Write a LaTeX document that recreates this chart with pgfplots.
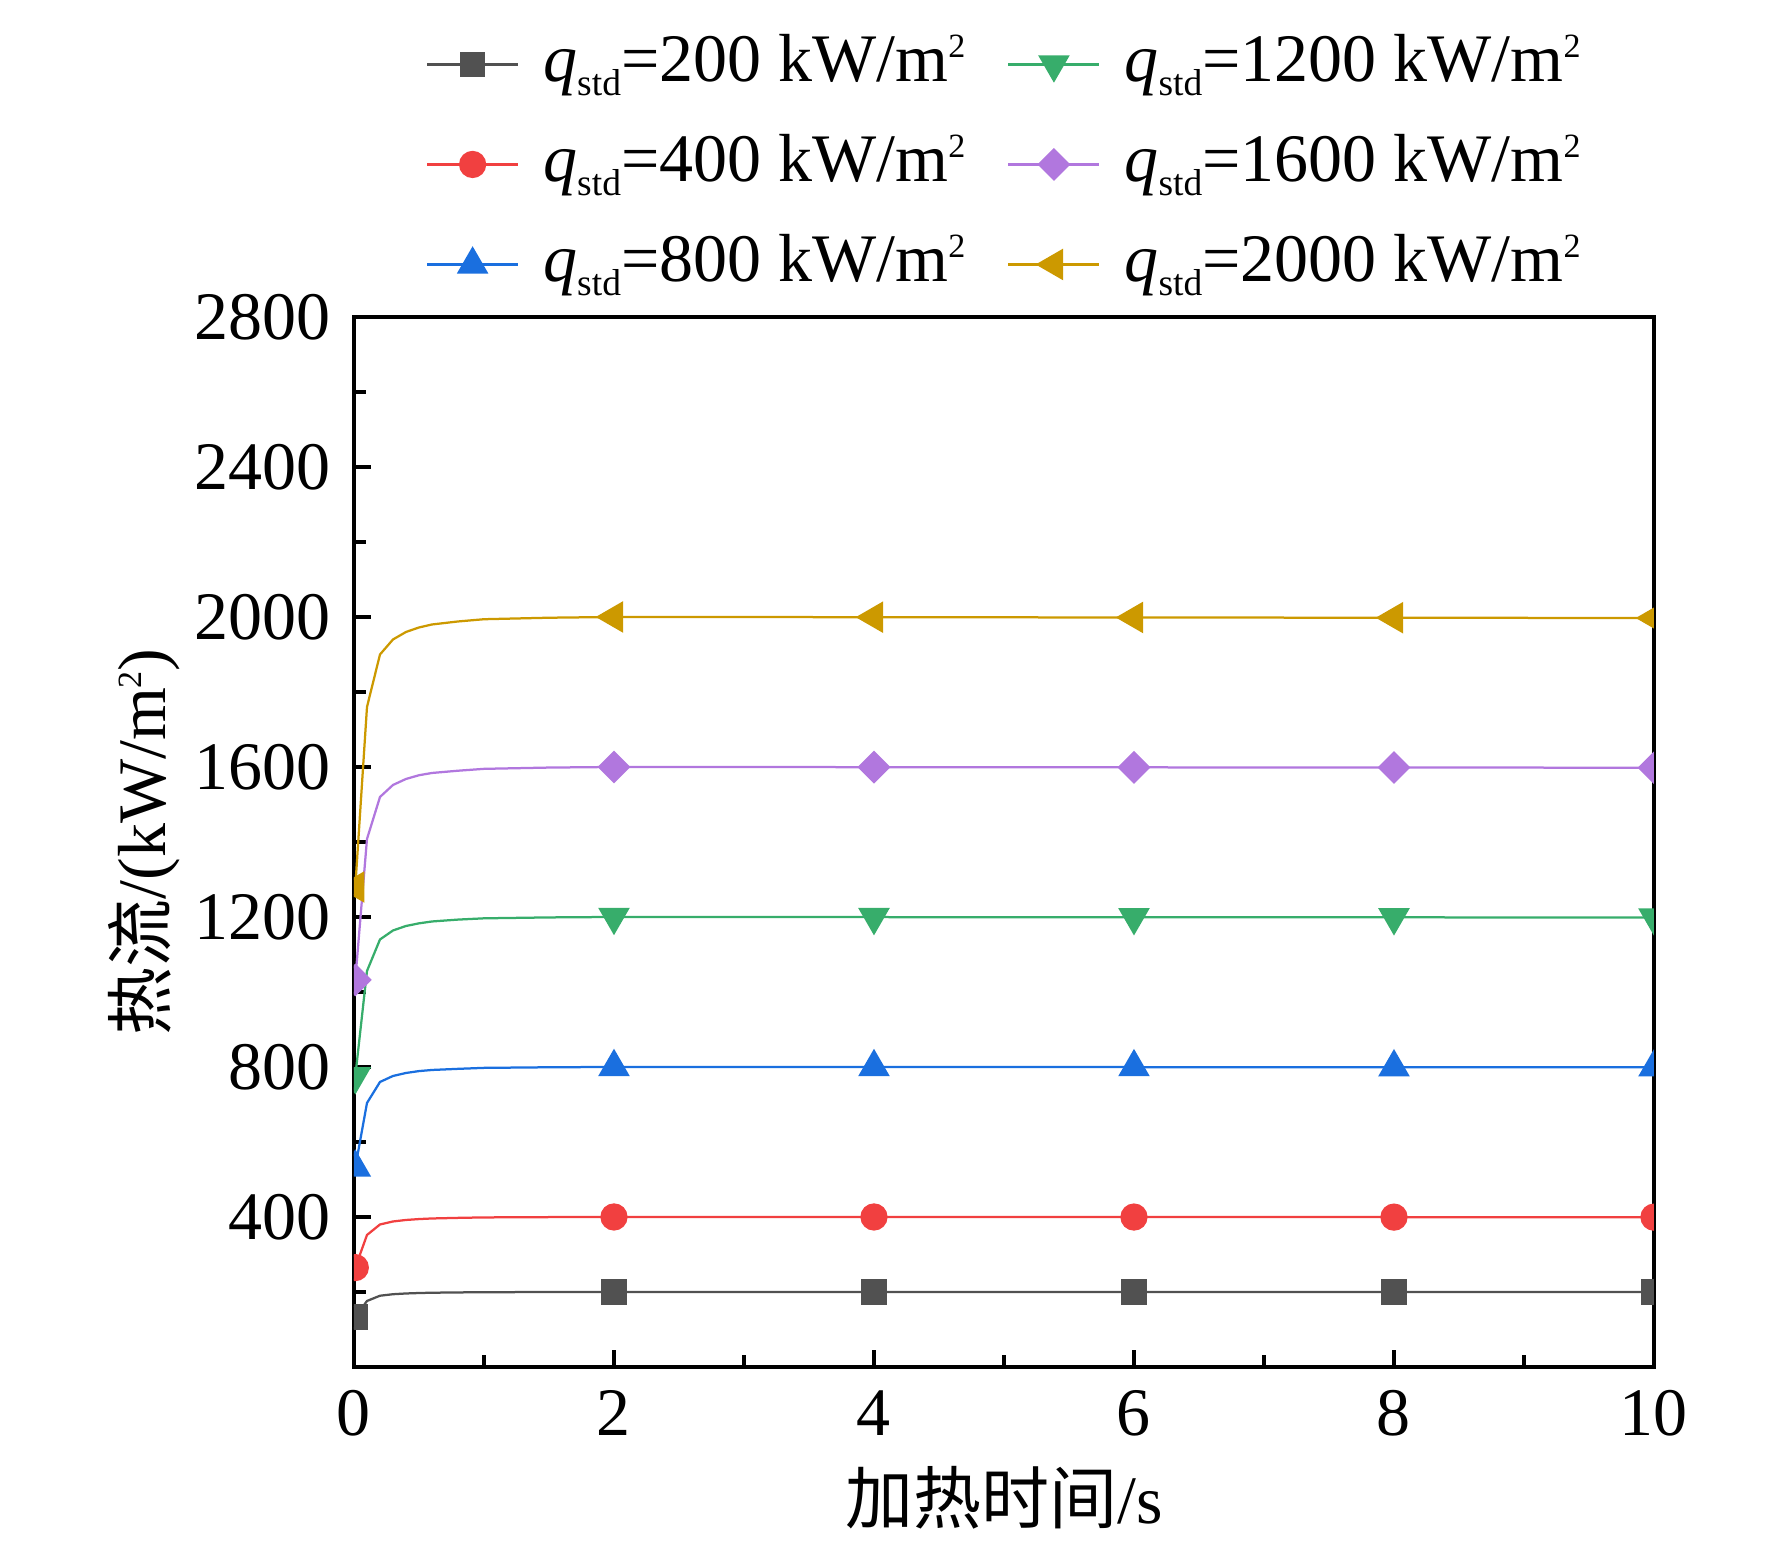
\documentclass[border=0pt]{standalone}
\usepackage{fontspec}
\setmainfont{Liberation Serif}
\newfontfamily\cjk{Noto Sans CJK SC}
\usepackage{pgfplots}
\usepackage{pgfplotstable}
\pgfplotsset{compat=1.18}
\definecolor{c1}{HTML}{515151}
\definecolor{c2}{HTML}{F14040}
\definecolor{c3}{HTML}{1A6FDF}
\definecolor{c4}{HTML}{37AD6B}
\definecolor{c5}{HTML}{B177DE}
\definecolor{c6}{HTML}{CC9900}
\newcommand\subr[1]{\raisebox{-2.8pt}{\fontsize{7.5}{8}\selectfont #1}}
\newcommand\supr[1]{\raisebox{4.8pt}{\fontsize{6.8}{8}\selectfont #1}}
\newcommand\qs{\textit{q}\subr{std}}

\pgfplotstableread{
t q
0.01 133
0.1 176
0.2 190
0.3 194
0.4 196
0.5 197.2
0.6 198
0.8 198.8
1.0 199.4
1.5 199.8
2 200
3 200
4 199.9
5 199.9
6 199.8
7 199.8
8 199.7
9 199.7
10 199.6
}\qa
\pgfplotstableread{
t q
0.01 265
0.1 352
0.2 380
0.3 388
0.4 392
0.5 394.4
0.6 396
0.8 397.6
1.0 398.8
1.5 399.6
2 400
3 400
4 400
5 399.8
6 399.8
7 399.6
8 399.6
9 399.5
10 399.5
}\qb
\pgfplotstableread{
t q
0.01 532
0.1 704
0.2 760
0.3 776
0.4 784
0.5 789
0.6 792
0.8 795
1.0 797.6
1.5 799.2
2 800
3 800
4 799.8
5 799.7
6 799.6
7 799.4
8 799.3
9 799.2
10 799
}\qc
\pgfplotstableread{
t q
0.01 775
0.1 1056
0.2 1140
0.3 1164
0.4 1176
0.5 1183
0.6 1188
0.8 1193
1.0 1196.4
1.5 1198.8
2 1200
3 1200
4 1199.6
5 1199.5
6 1199.3
7 1199.1
8 1199
9 1198.8
10 1198.6
}\qd
\pgfplotstableread{
t q
0.01 1032
0.1 1408
0.2 1520
0.3 1552
0.4 1568
0.5 1578
0.6 1584
0.8 1590
1.0 1595
1.5 1598.4
2 1600
3 1599.8
4 1599.5
5 1599.2
6 1599
7 1598.7
8 1598.5
9 1598.3
10 1598
}\qe
\pgfplotstableread{
t q
0.01 1280
0.1 1760
0.2 1900
0.3 1940
0.4 1960
0.5 1972
0.6 1980
0.8 1988
1.0 1994
1.5 1998
2 2000
3 1999.8
4 1999.4
5 1999
6 1998.7
7 1998.3
8 1998
9 1997.6
10 1997.2
}\qf

\begin{document}
\fontsize{13.6}{16}\selectfont
\begin{tikzpicture}
\path[use as bounding box] (-70.8pt,-36.4pt) rectangle (283.6pt,273.4pt);
\begin{axis}[
  scale only axis,
  width=260pt, height=210pt,
  at={(0,0)}, anchor=south west,
  xmin=0, xmax=10, ymin=0, ymax=2800,
  xtick={0,2,...,10}, minor xtick={1,3,5,7,9},
  ytick={400,800,...,2800}, minor ytick={200,600,...,2600},
  xtick pos=bottom, ytick pos=left,
  tick align=inside,
  major tick length=3.4pt, minor tick length=2.4pt,
  every tick/.style={line width=0.8pt, black},
  axis line style={line width=0.8pt},
  /pgf/number format/assume math mode=true,
  /pgf/number format/1000 sep={},
  tick label style={font=\fontsize{13.6}{16}\selectfont},
  label style={font=\fontsize{13.6}{16}\selectfont},
  xlabel={{\cjk 加热时间}/s},
  ylabel={{\cjk 热流}/(kW/m\supr{2})},
  xlabel style={at={(axis description cs:0.5,-0.1248)}, anchor=center},
  ylabel style={at={(axis description cs:-0.1615,0.5)}, anchor=center},
  clip marker paths=true,
  legend columns=2,
  legend cell align=left,
  legend image code/.code={\draw[mark indices={2}] plot coordinates {(0pt,0pt) (9.1pt,0pt) (18.2pt,0pt)};},
  legend style={draw=none, fill=none, at={(0,1)}, anchor=south west,
    xshift=14.2pt, yshift=0.8pt, inner sep=0pt,
    font=\fontsize{13.6}{16}\selectfont,
    nodes={inner sep=2pt, text height=11pt, text depth=4pt},
    row sep=1pt,
    /tikz/every odd column/.append style={column sep=2.8pt},
    /tikz/every even column/.append style={column sep=6.4pt}},
  every axis plot/.append style={line width=0.45pt},
]
\addplot[color=c1, mark=square*, mark size=2.3pt, mark indices={1,11,13,15,17,19}] table[x=t,y=q] {\qa};
\addlegendentry{\qs=200 kW/m\supr{2}}
\addplot[color=c4, mark=triangle*, mark size=3.2pt, mark options={rotate=180}, mark indices={1,11,13,15,17,19}] table[x=t,y=q] {\qd};
\addlegendentry{\qs=1200 kW/m\supr{2}}
\addplot[color=c2, mark=*, mark size=2.5pt, mark indices={1,11,13,15,17,19}] table[x=t,y=q] {\qb};
\addlegendentry{\qs=400 kW/m\supr{2}}
\addplot[color=c5, mark=square*, mark size=2.1pt, mark options={rotate=45}, mark indices={1,11,13,15,17,19}] table[x=t,y=q] {\qe};
\addlegendentry{\qs=1600 kW/m\supr{2}}
\addplot[color=c3, mark=triangle*, mark size=3.2pt, mark indices={1,11,13,15,17,19}] table[x=t,y=q] {\qc};
\addlegendentry{\qs=800 kW/m\supr{2}}
\addplot[color=c6, mark=triangle*, mark size=3.2pt, mark options={rotate=90}, mark indices={1,11,13,15,17,19}] table[x=t,y=q] {\qf};
\addlegendentry{\qs=2000 kW/m\supr{2}}
\end{axis}
\end{tikzpicture}
\end{document}
